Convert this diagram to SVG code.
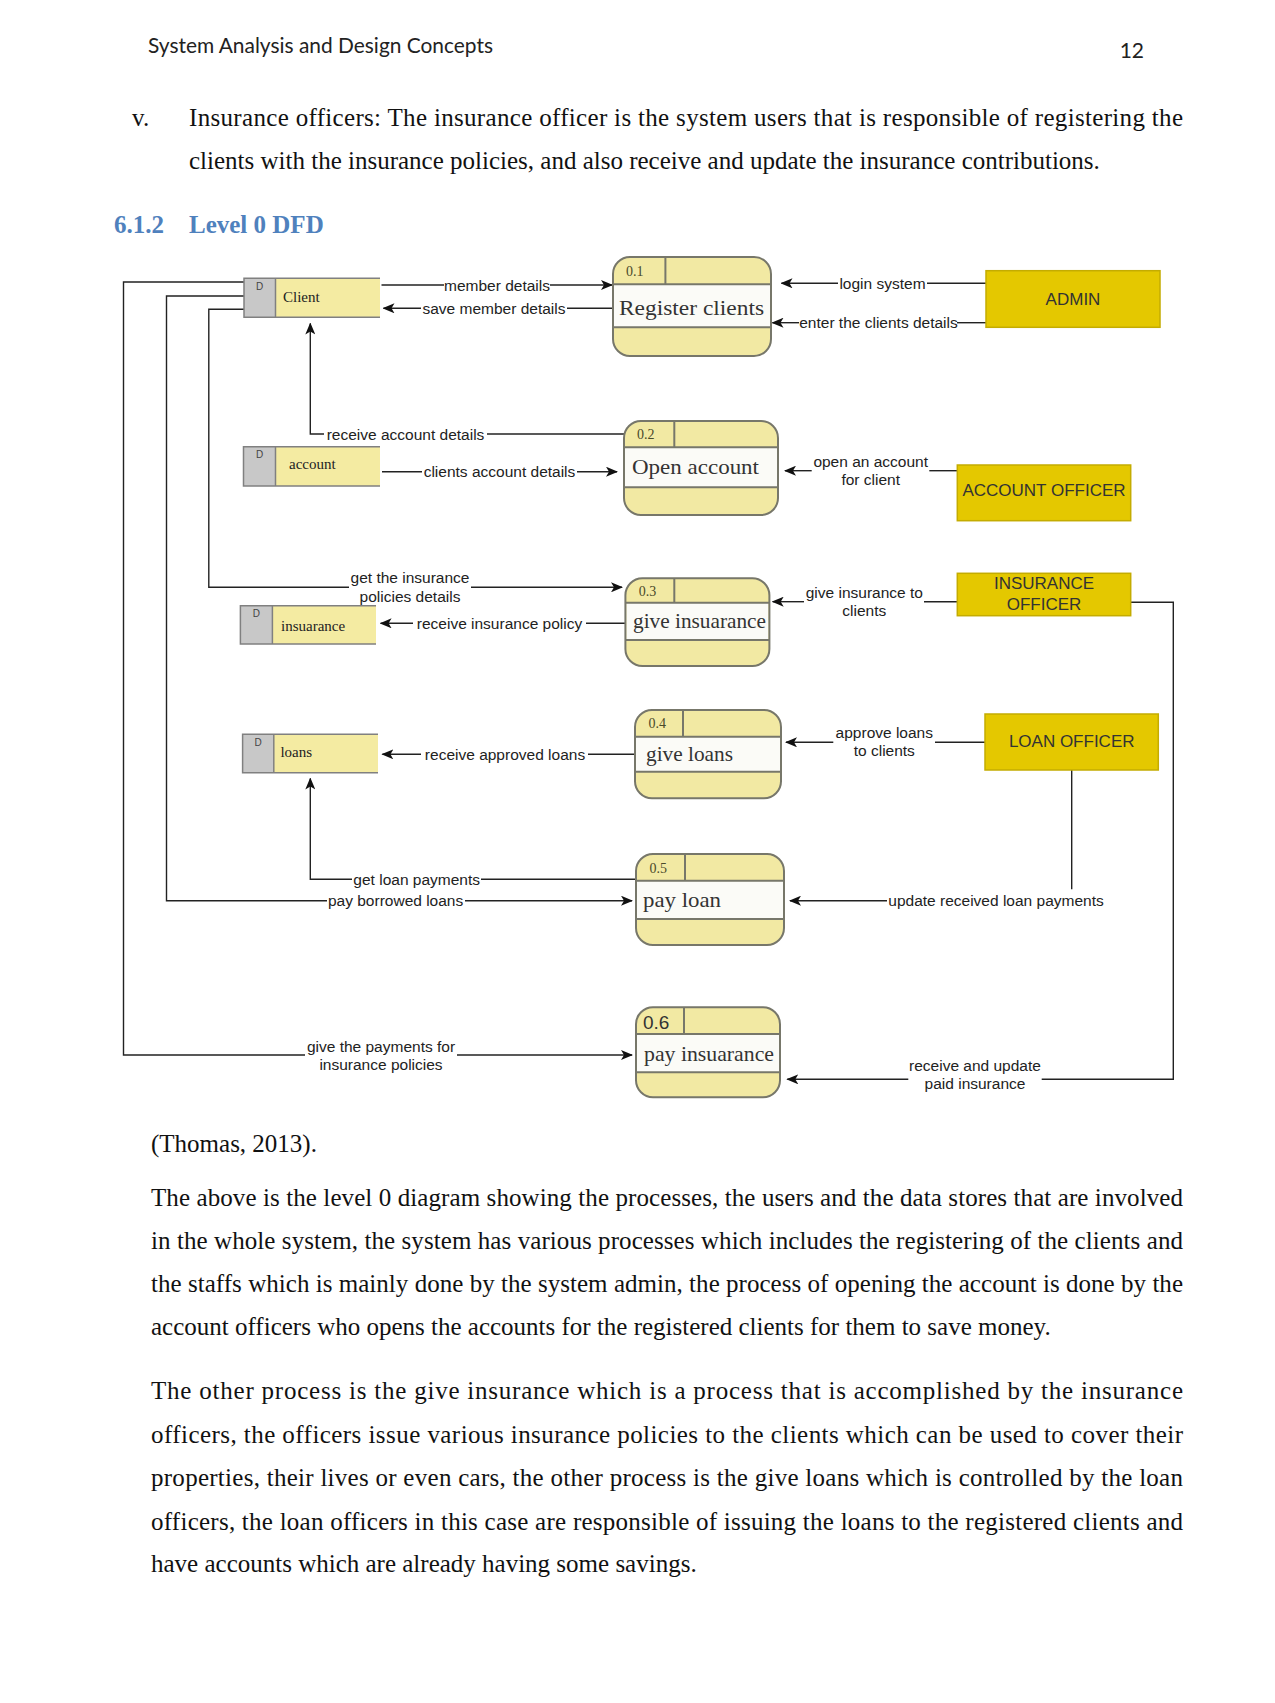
<svg xmlns="http://www.w3.org/2000/svg" width="1275" height="1703" viewBox="0 0 1275 1703">
<style>
.hdr{font-family:Lato,"Liberation Sans",sans-serif;font-size:21px;fill:#222}
.body{font-family:"Liberation Serif",serif;font-size:25px;fill:#111}
.h2{font-family:"Liberation Serif",serif;font-size:25px;font-weight:bold;fill:#4F81BD}
.lbl{font-family:"Liberation Sans",Arial,sans-serif;font-size:15.5px;fill:#222}
.ent{font-family:"Liberation Sans",Arial,sans-serif;font-size:17px;fill:#333}
.pname{font-family:"Liberation Serif",serif;font-size:22px;fill:#333}
.pnum{font-family:"Liberation Serif",serif;font-size:14px;fill:#4a4a2a}
.sname{font-family:"Liberation Serif",serif;font-size:15px;fill:#222}
.sd{font-family:"Liberation Sans",sans-serif;font-size:10px;fill:#444}
.pbody{fill:#F2E9A3}
.pband{fill:#FBFBF7}
.pline{stroke:#77776a;stroke-width:2;fill:none}
.ebox{fill:#E4C800;stroke:#C4AC00;stroke-width:1.5}
.sgray{fill:#C8C8C8}
.syel{fill:#F4EBA2}
.sedge{stroke:#808080;stroke-width:1.5;fill:none}
.cn{stroke:#222;stroke-width:1.4;fill:none}
</style>
<defs>
<marker id="ah" viewBox="0 0 12 10" refX="11" refY="5" markerWidth="12" markerHeight="10" markerUnits="userSpaceOnUse" orient="auto">
<path d="M0,0 L12,5 L0,10 L3,5 z" fill="#111"/>
</marker>
</defs>
<rect width="1275" height="1703" fill="#fff"/>

<g id="page-text">
<text class="hdr" x="148" y="53" textLength="345" lengthAdjust="spacingAndGlyphs">System Analysis and Design Concepts</text>
<text class="hdr" x="1144" y="58" text-anchor="end">12</text>
<text class="body" x="132" y="126">v.</text>
<text class="body" x="189" y="126" textLength="994" lengthAdjust="spacing">Insurance officers: The insurance officer is the system users that is responsible of registering the</text>
<text class="body" x="189" y="169">clients with the insurance policies, and also receive and update the insurance contributions.</text>
<text class="h2" x="114" y="233">6.1.2</text>
<text class="h2" x="189" y="233">Level 0 DFD</text>
<text class="body" x="151" y="1152">(Thomas, 2013).</text>
<text class="body" x="151" y="1206" textLength="1032" lengthAdjust="spacing">The above is the level 0 diagram showing the processes, the users and the data stores that are involved</text>
<text class="body" x="151" y="1249" textLength="1032" lengthAdjust="spacing">in the whole system, the system has various processes which includes the registering of the clients and</text>
<text class="body" x="151" y="1292" textLength="1032" lengthAdjust="spacing">the staffs which is mainly done by the system admin, the process of opening the account is done by the</text>
<text class="body" x="151" y="1335">account officers who opens the accounts for the registered clients for them to save money.</text>
<text class="body" x="151" y="1399" textLength="1032" lengthAdjust="spacing">The other process is the give insurance which is a process that is accomplished by the insurance</text>
<text class="body" x="151" y="1443" textLength="1032" lengthAdjust="spacing">officers, the officers issue various insurance policies to the clients which can be used to cover their</text>
<text class="body" x="151" y="1486" textLength="1032" lengthAdjust="spacing">properties, their lives or even cars, the other process is the give loans which is controlled by the loan</text>
<text class="body" x="151" y="1530" textLength="1032" lengthAdjust="spacing">officers, the loan officers in this case are responsible of issuing the loans to the registered clients and</text>
<text class="body" x="151" y="1572">have accounts which are already having some savings.</text>
</g>

<g id="connectors">
<polyline class="cn" points="244,282 123.5,282 123.5,1055 305,1055"/>
<line class="cn" x1="457" y1="1055" x2="632" y2="1055" marker-end="url(#ah)"/>
<polyline class="cn" points="244,296 166.5,296 166.5,900.7 327,900.7"/>
<line class="cn" x1="465" y1="900.7" x2="632" y2="900.7" marker-end="url(#ah)"/>
<polyline class="cn" points="244,309.3 208.8,309.3 208.8,587.3 349,587.3"/>
<line class="cn" x1="471" y1="587.3" x2="622" y2="587.3" marker-end="url(#ah)"/>
<line class="cn" x1="381.5" y1="285" x2="444" y2="285"/>
<line class="cn" x1="550" y1="285" x2="612" y2="285" marker-end="url(#ah)"/>
<line class="cn" x1="421" y1="308.3" x2="383.5" y2="308.3" marker-end="url(#ah)"/>
<line class="cn" x1="567" y1="308.3" x2="613" y2="308.3"/>
<line class="cn" x1="838" y1="283.3" x2="781.5" y2="283.3" marker-end="url(#ah)"/>
<line class="cn" x1="927" y1="283.3" x2="986" y2="283.3"/>
<line class="cn" x1="799" y1="322.7" x2="772.5" y2="322.7" marker-end="url(#ah)"/>
<line class="cn" x1="957" y1="322.7" x2="986" y2="322.7"/>
<polyline class="cn" points="324,434 310.3,434 310.3,323.5" marker-end="url(#ah)"/>
<line class="cn" x1="487" y1="434" x2="624" y2="434"/>
<line class="cn" x1="382" y1="471.7" x2="422" y2="471.7"/>
<line class="cn" x1="577" y1="471.7" x2="617" y2="471.7" marker-end="url(#ah)"/>
<line class="cn" x1="811.7" y1="470.7" x2="785" y2="470.7" marker-end="url(#ah)"/>
<line class="cn" x1="929.3" y1="470.7" x2="957.3" y2="470.7"/>
<line class="cn" x1="413" y1="623.3" x2="380.6" y2="623.3" marker-end="url(#ah)"/>
<line class="cn" x1="586" y1="623.3" x2="625.4" y2="623.3"/>
<line class="cn" x1="804" y1="601.7" x2="772.7" y2="601.7" marker-end="url(#ah)"/>
<line class="cn" x1="924" y1="601.7" x2="957.3" y2="601.7"/>
<polyline class="cn" points="1130.7,602.3 1173.3,602.3 1173.3,1079.3 1041.7,1079.3"/>
<line class="cn" x1="908.3" y1="1079.3" x2="787.3" y2="1079.3" marker-end="url(#ah)"/>
<line class="cn" x1="421" y1="754.3" x2="382.4" y2="754.3" marker-end="url(#ah)"/>
<line class="cn" x1="588" y1="754.3" x2="635" y2="754.3"/>
<line class="cn" x1="833.3" y1="742.3" x2="786" y2="742.3" marker-end="url(#ah)"/>
<line class="cn" x1="935" y1="742.3" x2="985" y2="742.3"/>
<polyline class="cn" points="352,879.3 310.3,879.3 310.3,778.5" marker-end="url(#ah)"/>
<line class="cn" x1="481" y1="879.3" x2="636" y2="879.3"/>
<line class="cn" x1="1071.7" y1="770" x2="1071.7" y2="889.3"/>
<line class="cn" x1="887" y1="900.7" x2="790" y2="900.7" marker-end="url(#ah)"/>
</g>

<g id="labels">
<text class="lbl" x="497" y="290.5" text-anchor="middle">member details</text>
<text class="lbl" x="494" y="313.8" text-anchor="middle">save member details</text>
<text class="lbl" x="882.5" y="288.8" text-anchor="middle">login system</text>
<text class="lbl" x="878.5" y="328.2" text-anchor="middle">enter the clients details</text>
<text class="lbl" x="405.5" y="439.5" text-anchor="middle">receive account details</text>
<text class="lbl" x="499.5" y="477.2" text-anchor="middle">clients account details</text>
<text class="lbl" x="870.7" y="466.5" text-anchor="middle">open an account</text>
<text class="lbl" x="870.7" y="484.5" text-anchor="middle">for client</text>
<text class="lbl" x="410" y="582.8" text-anchor="middle">get the insurance</text>
<text class="lbl" x="410" y="601.5" text-anchor="middle">policies details</text>
<text class="lbl" x="499.5" y="628.8" text-anchor="middle">receive insurance policy</text>
<text class="lbl" x="864.3" y="597.8" text-anchor="middle">give insurance to</text>
<text class="lbl" x="864.3" y="615.5" text-anchor="middle">clients</text>
<text class="lbl" x="505" y="759.8" text-anchor="middle">receive approved loans</text>
<text class="lbl" x="884.3" y="738.2" text-anchor="middle">approve loans</text>
<text class="lbl" x="884.3" y="756.2" text-anchor="middle">to clients</text>
<text class="lbl" x="416.7" y="884.8" text-anchor="middle">get loan payments</text>
<text class="lbl" x="395.6" y="906.2" text-anchor="middle">pay borrowed loans</text>
<text class="lbl" x="888.3" y="906.2">update received loan payments</text>
<text class="lbl" x="381" y="1051.5" text-anchor="middle">give the payments for</text>
<text class="lbl" x="381" y="1069.5" text-anchor="middle">insurance policies</text>
<text class="lbl" x="975" y="1070.5" text-anchor="middle">receive and update</text>
<text class="lbl" x="975" y="1088.8" text-anchor="middle">paid insurance</text>
</g>

<g id="p01">
<rect class="pbody" x="613" y="257" width="158" height="99" rx="17"/>
<rect class="pband" x="614" y="284.3" width="156" height="43"/>
<line class="pline" x1="613" y1="284.3" x2="771" y2="284.3"/>
<line class="pline" x1="613" y1="327.3" x2="771" y2="327.3"/>
<line class="pline" x1="665.4" y1="257" x2="665.4" y2="284.3"/>
<rect class="pline" x="613" y="257" width="158" height="99" rx="17"/>
<text class="pnum" x="626" y="276">0.1</text>
<text class="pname" x="619" y="315" textLength="145" lengthAdjust="spacingAndGlyphs">Register clients</text>
</g>
<g id="p02">
<rect class="pbody" x="624" y="421" width="154" height="94" rx="17"/>
<rect class="pband" x="625" y="447.3" width="152" height="40"/>
<line class="pline" x1="624" y1="447.3" x2="778" y2="447.3"/>
<line class="pline" x1="624" y1="487.3" x2="778" y2="487.3"/>
<line class="pline" x1="674.3" y1="421" x2="674.3" y2="447.3"/>
<rect class="pline" x="624" y="421" width="154" height="94" rx="17"/>
<text class="pnum" x="637" y="439">0.2</text>
<text class="pname" x="632" y="474" textLength="127" lengthAdjust="spacingAndGlyphs">Open account</text>
</g>
<g id="p03">
<rect class="pbody" x="625.4" y="578.3" width="144" height="87.7" rx="17"/>
<rect class="pband" x="626.4" y="602.7" width="142" height="37.3"/>
<line class="pline" x1="625.4" y1="602.7" x2="769.4" y2="602.7"/>
<line class="pline" x1="625.4" y1="640" x2="769.4" y2="640"/>
<line class="pline" x1="674.3" y1="578.3" x2="674.3" y2="602.7"/>
<rect class="pline" x="625.4" y="578.3" width="144" height="87.7" rx="17"/>
<text class="pnum" x="638.7" y="595.5">0.3</text>
<text class="pname" x="633" y="628" textLength="133" lengthAdjust="spacingAndGlyphs">give insuarance</text>
</g>
<g id="p04">
<rect class="pbody" x="635" y="710" width="146" height="88.3" rx="17"/>
<rect class="pband" x="636" y="736.7" width="144" height="35"/>
<line class="pline" x1="635" y1="736.7" x2="781" y2="736.7"/>
<line class="pline" x1="635" y1="771.7" x2="781" y2="771.7"/>
<line class="pline" x1="683" y1="710" x2="683" y2="736.7"/>
<rect class="pline" x="635" y="710" width="146" height="88.3" rx="17"/>
<text class="pnum" x="648.5" y="728">0.4</text>
<text class="pname" x="646" y="761" textLength="87" lengthAdjust="spacingAndGlyphs">give loans</text>
</g>
<g id="p05">
<rect class="pbody" x="636" y="854" width="148" height="91" rx="17"/>
<rect class="pband" x="637" y="880.7" width="146" height="38.3"/>
<line class="pline" x1="636" y1="880.7" x2="784" y2="880.7"/>
<line class="pline" x1="636" y1="919" x2="784" y2="919"/>
<line class="pline" x1="685" y1="854" x2="685" y2="880.7"/>
<rect class="pline" x="636" y="854" width="148" height="91" rx="17"/>
<text class="pnum" x="649.4" y="872.5">0.5</text>
<text class="pname" x="643" y="907" textLength="78" lengthAdjust="spacingAndGlyphs">pay loan</text>
</g>
<g id="p06">
<rect class="pbody" x="636" y="1007.3" width="144" height="90" rx="17"/>
<rect class="pband" x="637" y="1034" width="142" height="38.3"/>
<line class="pline" x1="636" y1="1034" x2="780" y2="1034"/>
<line class="pline" x1="636" y1="1072.3" x2="780" y2="1072.3"/>
<line class="pline" x1="684" y1="1007.3" x2="684" y2="1034"/>
<rect class="pline" x="636" y="1007.3" width="144" height="90" rx="17"/>
<text class="lbl" x="643" y="1028.5" style="font-size:19px;fill:#333">0.6</text>
<text class="pname" x="644" y="1061" textLength="130" lengthAdjust="spacingAndGlyphs">pay insuarance</text>
</g>

<g id="s-client">
<rect class="syel" x="275.5" y="278.3" width="104.5" height="39"/>
<rect class="sgray" x="244" y="278.3" width="31.5" height="39"/>
<polyline class="sedge" points="380,278.3 244,278.3 244,317.3 380,317.3"/>
<line class="sedge" x1="275.5" y1="278.3" x2="275.5" y2="317.3"/>
<text class="sd" x="259.7" y="290" text-anchor="middle">D</text>
<text class="sname" x="283" y="302">Client</text>
</g>
<g id="s-account">
<rect class="syel" x="275.5" y="446.7" width="104.5" height="39.3"/>
<rect class="sgray" x="243.5" y="446.7" width="32" height="39.3"/>
<polyline class="sedge" points="380,446.7 243.5,446.7 243.5,486 380,486"/>
<line class="sedge" x1="275.5" y1="446.7" x2="275.5" y2="486"/>
<text class="sd" x="259.5" y="458" text-anchor="middle">D</text>
<text class="sname" x="289" y="469">account</text>
</g>
<g id="s-insurance">
<rect class="syel" x="272.4" y="605.7" width="103.6" height="38.3"/>
<rect class="sgray" x="240.4" y="605.7" width="32" height="38.3"/>
<polyline class="sedge" points="376,605.7 240.4,605.7 240.4,644 376,644"/>
<line class="sedge" x1="272.4" y1="605.7" x2="272.4" y2="644"/>
<text class="sd" x="256.4" y="617" text-anchor="middle">D</text>
<text class="sname" x="281" y="631">insuarance</text>
</g>
<g id="s-loans">
<rect class="syel" x="273.8" y="734.3" width="104.2" height="38.4"/>
<rect class="sgray" x="242.6" y="734.3" width="31.2" height="38.4"/>
<polyline class="sedge" points="378,734.3 242.6,734.3 242.6,772.7 378,772.7"/>
<line class="sedge" x1="273.8" y1="734.3" x2="273.8" y2="772.7"/>
<text class="sd" x="258.2" y="746" text-anchor="middle">D</text>
<text class="sname" x="280.4" y="757">loans</text>
</g>

<g id="e-admin">
<rect class="ebox" x="986" y="270.7" width="174" height="56.6"/>
<text class="ent" x="1073" y="305" text-anchor="middle">ADMIN</text>
</g>
<g id="e-account-officer">
<rect class="ebox" x="957.3" y="465" width="173.4" height="55.7"/>
<text class="ent" x="1044" y="496" text-anchor="middle">ACCOUNT OFFICER</text>
</g>
<g id="e-insurance-officer">
<rect class="ebox" x="957.3" y="573.3" width="173.4" height="42.4"/>
<text class="ent" x="1044" y="589" text-anchor="middle">INSURANCE</text>
<text class="ent" x="1044" y="609.5" text-anchor="middle">OFFICER</text>
</g>
<g id="e-loan-officer">
<rect class="ebox" x="985" y="714" width="173.3" height="56"/>
<text class="ent" x="1071.7" y="747" text-anchor="middle">LOAN OFFICER</text>
</g>
</svg>
